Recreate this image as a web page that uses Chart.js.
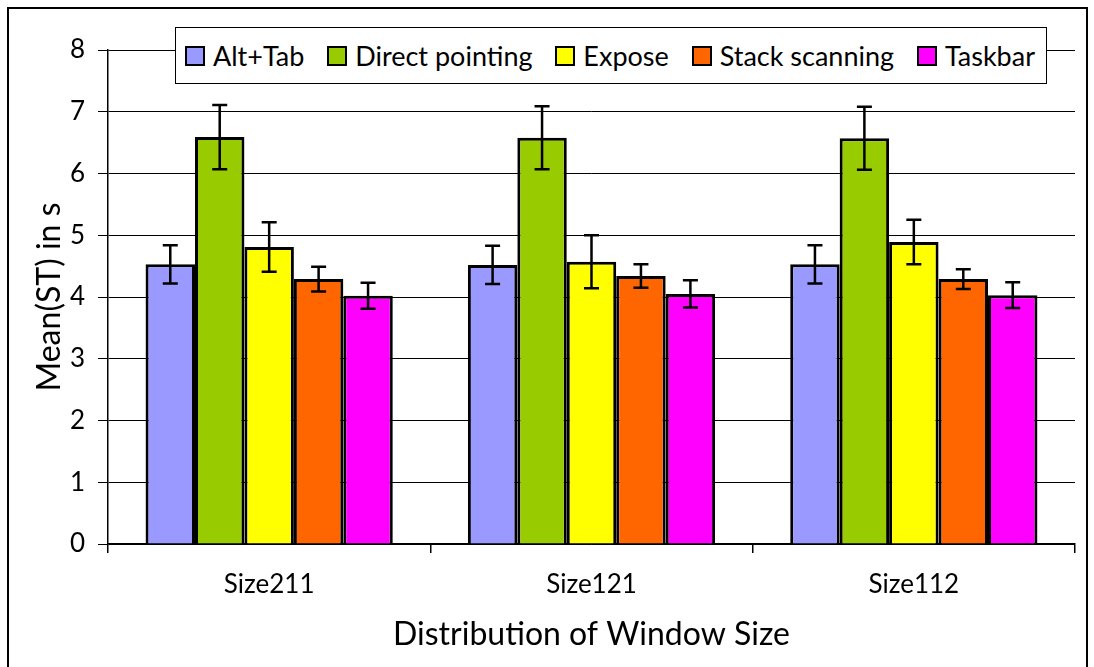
<!DOCTYPE html>
<html>
<head>
<meta charset="utf-8">
<script src="https://cdn.jsdelivr.net/npm/chart.js@4"></script>
<style>
    html, body { margin: 0; padding: 0; background: #fff; }
    #wrap { position: relative; width: 1094px; height: 667px; overflow: hidden; }
    #frame { position: absolute; left: 7px; top: 7px; width: 1081px; height: 700px; border: 2px solid #000; box-sizing: border-box; }
    canvas { position: absolute; left: 0; top: 0; }
    #legend {
        position: absolute; left: 175px; top: 27px; width: 872px; height: 57px;
        border: 1.5px solid #000; box-sizing: border-box; background: #fff;
        display: flex; align-items: center; justify-content: space-between; padding: 0 11px 0 9px;
        font-family: Lato, sans-serif; font-size: 27px; color: #000;
    }
    .item { display: flex; align-items: center; white-space: nowrap; }
    .swatch { width: 20px; height: 20px; border: 2.5px solid #000; box-sizing: border-box; margin-right: 8px; }
</style>
</head>
<body>
<div id="wrap">
    <div id="frame"></div>
    <canvas id="chart" width="1094" height="667"></canvas>
    <div id="legend"></div>
</div>
<script>
const categories = ['Size211', 'Size121', 'Size112'];
const seriesNames = ['Alt+Tab', 'Direct pointing', 'Expose', 'Stack scanning', 'Taskbar'];
const seriesColors = ['#9999FF', '#99CC00', '#FFFF00', '#FF6600', '#FF00FF'];

// mean search time per technique, one value per window-size distribution
const altTab = [4.53, 4.52, 4.53];
const directPointing = [6.59, 6.58, 6.57];
const expose = [4.81, 4.57, 4.89];
const stackScanning = [4.29, 4.34, 4.29];
const taskbar = [4.02, 4.05, 4.03];

// half length of the error bars
const altTabErr = [0.31, 0.31, 0.31];
const directPointingErr = [0.52, 0.51, 0.51];
const exposeErr = [0.40, 0.43, 0.36];
const stackScanningErr = [0.20, 0.19, 0.16];
const taskbarErr = [0.21, 0.22, 0.21];

const yTicks = [0, 1, 2, 3, 4, 5, 6, 7, 8];

const means = [altTab, directPointing, expose, stackScanning, taskbar];
const errors = [altTabErr, directPointingErr, exposeErr, stackScanningErr, taskbarErr];

const errorBars = {
    id: 'errorBars',
    afterDatasetsDraw(chart) {
        const ctx = chart.ctx;
        const y = chart.scales.y;
        ctx.save();
        ctx.strokeStyle = '#000';
        ctx.lineWidth = 2.5;
        chart.data.datasets.forEach((ds, i) => {
            const meta = chart.getDatasetMeta(i);
            meta.data.forEach((bar, j) => {
                const top = y.getPixelForValue(ds.data[j] + ds.errors[j]);
                const bot = y.getPixelForValue(ds.data[j] - ds.errors[j]);
                ctx.beginPath();
                ctx.moveTo(bar.x, top);
                ctx.lineTo(bar.x, bot);
                ctx.moveTo(bar.x - 7.5, top);
                ctx.lineTo(bar.x + 7.5, top);
                ctx.moveTo(bar.x - 7.5, bot);
                ctx.lineTo(bar.x + 7.5, bot);
                ctx.stroke();
            });
        });
        ctx.restore();
    }
};

const legend = document.getElementById('legend');
seriesNames.forEach((name, i) => {
    const item = document.createElement('div');
    item.className = 'item';
    item.innerHTML = `<div class="swatch" style="background:${seriesColors[i]}"></div><span>${name}</span>`;
    legend.appendChild(item);
});

new Chart(document.getElementById('chart'), {
    type: 'bar',
    data: {
        labels: categories,
        datasets: seriesNames.map((name, i) => ({
            label: name,
            data: means[i],
            errors: errors[i],
            backgroundColor: seriesColors[i],
            borderColor: '#000',
            borderWidth: 3,
            categoryPercentage: 0.767,
            barPercentage: 1.0
        }))
    },
    options: {
        responsive: false,
        animation: false,
        layout: { padding: { top: 50, right: 19, left: 0, bottom: 0 } },
        plugins: {
            legend: { display: false },
            tooltip: { enabled: false }
        },
        scales: {
            x: {
                grid: { drawOnChartArea: false, drawTicks: true, tickLength: 9, color: '#000', lineWidth: 1.5 },
                border: { color: '#000', width: 1.5 },
                ticks: { color: '#000', padding: 16, font: { family: 'Lato', size: 26 } },
                title: {
                    display: true, text: 'Distribution of Window Size', color: '#000',
                    font: { family: 'Lato', size: 32 }, padding: { top: 0, bottom: 13 }
                },
                afterFit(scale) { scale.height = 123; }
            },
            y: {
                min: 0, max: 8,
                afterBuildTicks(scale) { scale.ticks = yTicks.map(v => ({ value: v })); },
                grid: { color: '#000', lineWidth: 1, tickLength: 10 },
                border: { color: '#000', width: 1.5 },
                ticks: { color: '#000', padding: 13, font: { family: 'Lato', size: 26 } },
                title: {
                    display: true, text: 'Mean(ST) in s', color: '#000',
                    font: { family: 'Lato', size: 32 }, padding: { top: 30, bottom: 0 }
                },
                afterFit(scale) { scale.width = 108; }
            }
        }
    },
    plugins: [errorBars]
});
</script>
</body>
</html>
